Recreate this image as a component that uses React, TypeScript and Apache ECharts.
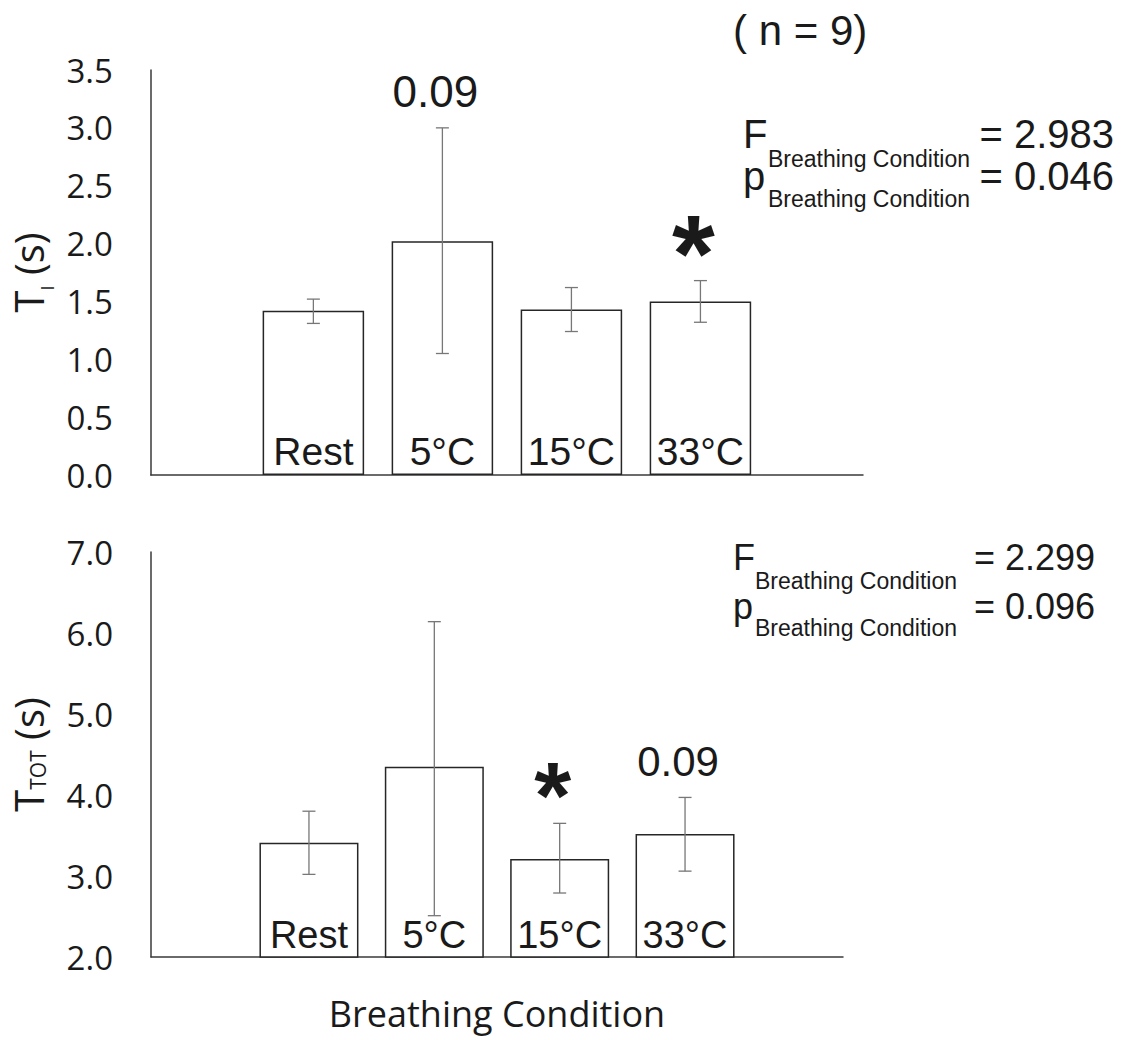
import React, { useEffect, useRef } from "react";
import * as echarts from "echarts";

// Breathing conditions (one bar per condition in each panel)
const conditions = ["Rest", "5°C", "15°C", "33°C"];

// Inspiratory time T_I (s): bar means and error-bar ends
const tiMean = [1.42, 2.02, 1.43, 1.5];
const tiLow = [1.31, 1.05, 1.24, 1.32];
const tiHigh = [1.52, 3.0, 1.62, 1.68];
const tiMarks = ["", "0.09", "", "*"];

// Total breath time T_TOT (s): bar means and error-bar ends
const ttotMean = [3.41, 4.35, 3.21, 3.52];
const ttotLow = [3.02, 2.51, 2.79, 3.06];
const ttotHigh = [3.8, 6.14, 3.65, 3.97];
const ttotMarks = ["", "", "*", "0.09"];

// Axis ranges
const tiAxis = { min: 0, max: 3.5, interval: 0.5 };
const ttotAxis = { min: 2, max: 7, interval: 1 };

// ANOVA results per panel: [F, p]
const tiStats = ["2.983", "0.046"];
const ttotStats = ["2.299", "0.096"];
const factorName = "Breathing Condition";
const sampleSize = 9;

const ARIAL = "'Liberation Sans', Arial, sans-serif";
const OPEN = "'Open Sans', 'Noto Sans', sans-serif";
const INK = "#1a1a1a";
const AXIS = "#3a3a3a";
const PAD = 1.26; // empty room left and right of the bar group, in category units

function errorSeries(axisIndex: number, low: number[], high: number[], marks: string[], numSize: number, starSize: number) {
  return {
    type: "custom",
    xAxisIndex: axisIndex,
    yAxisIndex: axisIndex,
    z: 5,
    data: low.map((l, i) => [i, l, high[i]]),
    encode: { x: 0, y: [1, 2] },
    renderItem: (params: any, api: any) => {
      const x = api.value(0);
      const lo = api.coord([x, api.value(1)]);
      const hi = api.coord([x, api.value(2)]);
      const cap = 6.5;
      const style = { stroke: "#777777", lineWidth: 1.3 };
      const children: any[] = [
        { type: "line", shape: { x1: hi[0], y1: hi[1], x2: lo[0], y2: lo[1] }, style },
        { type: "line", shape: { x1: hi[0] - cap, y1: hi[1], x2: hi[0] + cap, y2: hi[1] }, style },
        { type: "line", shape: { x1: lo[0] - cap, y1: lo[1], x2: lo[0] + cap, y2: lo[1] }, style },
      ];
      const mark = marks[params.dataIndex];
      if (mark) {
        const star = mark === "*";
        children.push({
          type: "text",
          x: hi[0] - 7,
          y: star ? hi[1] - 28 : hi[1] - 36,
          style: {
            text: mark,
            fontSize: star ? starSize : numSize,
            fontWeight: star ? "bold" : "normal",
            fontFamily: ARIAL,
            fill: INK,
            align: "center",
            verticalAlign: "middle",
          },
        });
      }
      return { type: "group", children };
    },
  };
}

function barSeries(axisIndex: number, values: number[], width: number, labelSize: number) {
  return {
    type: "bar",
    xAxisIndex: axisIndex,
    yAxisIndex: axisIndex,
    barWidth: width,
    data: values.map((v, i) => [i, v]),
    itemStyle: { color: "#ffffff", borderColor: "#262626", borderWidth: 1.5 },
    label: {
      show: true,
      position: "insideBottom",
      distance: 4,
      formatter: (p: any) => conditions[p.dataIndex],
      fontSize: labelSize,
      fontFamily: ARIAL,
      color: INK,
    },
  };
}

function statLines(x: number, subX: number, rightX: number, y1: number, y2: number, size: number, stats: string[]) {
  const mid = size * 0.347;
  const t = (px: number, py: number, text: string, fs: number, align = "left") => ({
    type: "text",
    x: px,
    y: py,
    style: { text, fontSize: fs, fontFamily: ARIAL, fill: INK, align, verticalAlign: "middle" },
  });
  return [
    t(x, y1 - mid, "F", size),
    t(subX, y1 + 18.7 - 8, factorName, 23),
    t(rightX, y1 - mid, "= " + stats[0], size, "right"),
    t(x, y2 - mid, "p", size),
    t(subX, y2 + 16.7 - 8, factorName, 23),
    t(rightX, y2 - mid, "= " + stats[1], size, "right"),
  ];
}

function xAxisBase(gridIndex: number) {
  return {
    type: "value",
    gridIndex,
    min: -PAD,
    max: conditions.length - 1 + PAD,
    axisLine: { show: true, onZero: false, lineStyle: { color: AXIS, width: 1.5 } },
    axisTick: { show: false },
    axisLabel: { show: false },
    splitLine: { show: false },
  };
}

function yAxisBase(gridIndex: number, range: { min: number; max: number; interval: number }) {
  return {
    type: "value",
    gridIndex,
    min: range.min,
    max: range.max,
    interval: range.interval,
    nameLocation: "middle",
    axisLine: { show: true, onZero: false, lineStyle: { color: AXIS, width: 1.5 } },
    axisTick: { show: false },
    splitLine: { show: false },
    axisLabel: {
      margin: 38,
      fontSize: 33,
      fontFamily: OPEN,
      color: INK,
      formatter: (v: number) => v.toFixed(1),
    },
  };
}

export default function App() {
  const ref = useRef<HTMLDivElement>(null);

  useEffect(() => {
    if (!ref.current) return;
    const chart = echarts.init(ref.current, undefined, { renderer: "svg" });
    chart.setOption({
      animation: false,
      backgroundColor: "#ffffff",
      grid: [
        { left: 150, top: 70, width: 713, height: 405 },
        { left: 149, top: 552, width: 694, height: 405 },
      ],
      xAxis: [
        xAxisBase(0),
        {
          ...xAxisBase(1),
          name: factorName,
          nameLocation: "middle",
          nameGap: 38,
          nameTextStyle: { fontSize: 36, fontFamily: OPEN, color: INK },
        },
      ],
      yAxis: [
        {
          ...yAxisBase(0, tiAxis),
          name: "{m|T}{s|I}{m| (s)}",
          nameGap: 95,
          nameTextStyle: {
            color: INK,
            rich: {
              m: { fontSize: 40, lineHeight: 55, fontFamily: OPEN, color: INK, verticalAlign: "middle" },
              s: { fontSize: 18, lineHeight: 18, fontFamily: OPEN, color: INK, verticalAlign: "bottom" },
            },
          },
        },
        {
          ...yAxisBase(1, ttotAxis),
          name: "{m|T}{s|TOT}{m| (s)}",
          nameGap: 103,
          nameTextStyle: {
            color: INK,
            rich: {
              m: { fontSize: 40, lineHeight: 40, fontFamily: OPEN, color: INK, verticalAlign: "middle" },
              s: { fontSize: 21, lineHeight: 21, fontFamily: OPEN, color: INK, verticalAlign: "bottom" },
            },
          },
        },
      ],
      series: [
        barSeries(0, tiMean, 101.5, 39),
        errorSeries(0, tiLow, tiHigh, tiMarks, 44, 110),
        barSeries(1, ttotMean, 99, 38),
        errorSeries(1, ttotLow, ttotHigh, ttotMarks, 42, 95),
      ],
      graphic: [
        {
          type: "text",
          x: 733,
          y: 45 - 42 * 0.347,
          style: { text: `( n = ${sampleSize})`, fontSize: 42, fontFamily: ARIAL, fill: INK, verticalAlign: "middle" },
        },
        ...statLines(743, 768, 1114, 148, 190, 40, tiStats),
        ...statLines(733, 755, 1095, 570, 619, 36, ttotStats),
      ],
    });
    return () => chart.dispose();
  }, []);

  return (
    <div
      ref={ref}
      style={{ position: "absolute", left: 0, top: 0, width: 1127, height: 1040, background: "#fff" }}
    />
  );
}
